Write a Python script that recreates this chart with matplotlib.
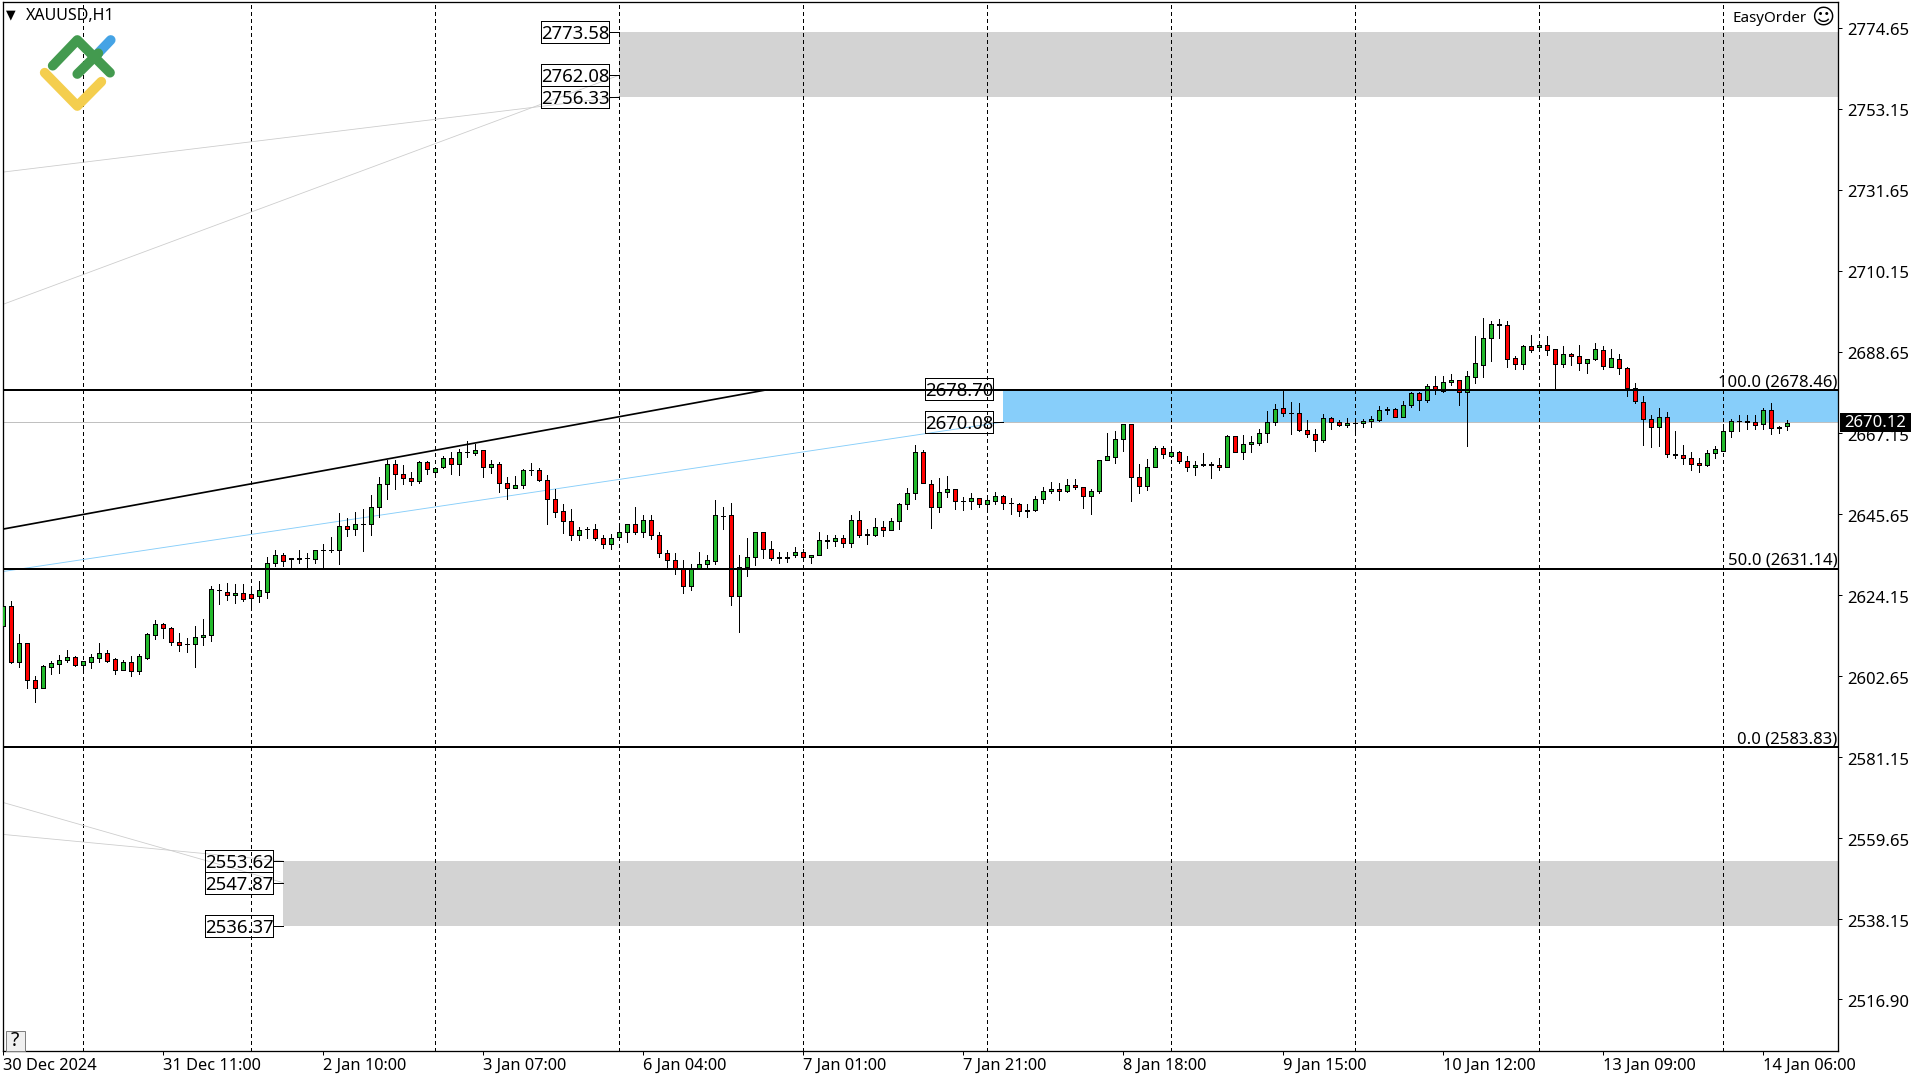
import numpy as np
import matplotlib
matplotlib.use("Agg")
import matplotlib.pyplot as plt
from matplotlib.lines import Line2D
from matplotlib.patches import Rectangle
from matplotlib.transforms import ScaledTranslation

plt.rcParams['font.family'] = ['Noto Sans', 'DejaVu Sans']

# XAUUSD H1 candles
opens = [2616.1, 2621.4, 2606.5, 2611.4, 2601.6, 2599.6, 2605.2, 2606.0, 2606.9, 2607.7,
         2605.7, 2606.5, 2607.6, 2608.7, 2607.2, 2604.4, 2606.4, 2603.9, 2607.6, 2613.7,
         2616.4, 2615.4, 2611.6, 2611.1, 2611.1, 2613.0, 2613.5, 2625.6, 2625.1, 2624.1,
         2624.6, 2624.4, 2623.8, 2625.1, 2632.8, 2634.7, 2633.9, 2633.9, 2633.9, 2633.8,
         2636.2, 2636.2, 2636.0, 2642.6, 2641.8, 2643.1, 2642.9, 2647.4, 2653.7, 2659.0,
         2656.4, 2655.3, 2654.5, 2659.5, 2656.9, 2658.2, 2660.6, 2659.0, 2662.2, 2661.9,
         2662.7, 2658.2, 2659.0, 2654.0, 2652.7, 2653.4, 2657.4, 2657.4, 2654.8, 2649.7,
         2646.6, 2643.9, 2640.0, 2641.8, 2641.8, 2639.2, 2637.8, 2639.6, 2640.8, 2643.1,
         2640.9, 2644.2, 2640.0, 2635.2, 2633.6, 2631.0, 2626.5, 2631.1, 2632.5, 2633.3,
         2645.2, 2645.5, 2623.8, 2631.5, 2634.4, 2640.8, 2636.5, 2634.3, 2634.3, 2634.7,
         2635.5, 2634.4, 2634.7, 2638.9, 2638.4, 2639.4, 2638.1, 2644.2, 2640.0, 2640.1,
         2642.3, 2641.3, 2643.9, 2648.4, 2651.3, 2662.2, 2653.7, 2647.6, 2651.6, 2652.4,
         2649.2, 2649.2, 2650.0, 2648.4, 2649.2, 2650.5, 2648.7, 2648.4, 2646.8, 2646.7,
         2649.7, 2651.9, 2652.4, 2651.9, 2653.4, 2652.9, 2650.5, 2651.9, 2660.1, 2660.9,
         2665.6, 2669.6, 2655.6, 2653.2, 2658.2, 2663.2, 2661.0, 2662.2, 2659.8, 2658.2,
         2658.9, 2658.9, 2658.7, 2658.2, 2666.4, 2662.2, 2664.3, 2664.6, 2667.2, 2670.1,
         2673.8, 2672.5, 2672.5, 2668.0, 2667.0, 2665.4, 2671.2, 2670.1, 2669.3, 2669.9,
         2669.9, 2670.4, 2670.6, 2673.5, 2673.6, 2671.5, 2674.6, 2677.8, 2675.9, 2679.6,
         2678.3, 2680.7, 2681.3, 2678.1, 2682.0, 2685.2, 2692.4, 2696.0, 2695.8, 2687.1,
         2685.5, 2690.3, 2690.0, 2690.5, 2689.5, 2685.5, 2688.1, 2687.6, 2685.8, 2686.8,
         2689.2, 2684.7, 2686.8, 2684.4, 2679.1, 2675.4, 2670.9, 2668.8, 2671.5, 2661.7,
         2661.2, 2660.6, 2659.3, 2658.8, 2661.9, 2662.5, 2667.8, 2670.4, 2670.4, 2670.2,
         2669.6, 2673.3, 2668.8, 2669.1]
highs = [2622.6, 2622.6, 2613.8, 2611.4, 2602.7, 2605.6, 2606.7, 2608.2, 2609.5, 2607.9,
         2606.6, 2608.5, 2611.4, 2609.5, 2607.4, 2606.9, 2607.9, 2608.5, 2614.0, 2617.6,
         2616.7, 2615.6, 2614.0, 2612.7, 2616.1, 2617.7, 2626.5, 2627.0, 2627.3, 2627.0,
         2627.0, 2625.4, 2627.8, 2634.4, 2636.2, 2635.2, 2634.1, 2636.2, 2635.2, 2636.0,
         2637.6, 2639.7, 2646.0, 2644.5, 2646.3, 2647.1, 2650.8, 2655.6, 2660.1, 2660.1,
         2658.7, 2656.9, 2659.8, 2659.8, 2658.0, 2661.1, 2662.2, 2663.0, 2665.1, 2664.3,
         2662.7, 2660.1, 2659.5, 2655.6, 2655.8, 2657.7, 2659.3, 2657.9, 2656.1, 2652.4,
         2648.2, 2647.1, 2642.3, 2642.1, 2642.9, 2640.0, 2640.5, 2642.9, 2643.1, 2647.4,
         2645.3, 2645.3, 2640.8, 2636.0, 2635.2, 2633.6, 2632.5, 2635.5, 2634.9, 2649.5,
         2647.6, 2648.7, 2634.7, 2639.4, 2641.0, 2640.8, 2638.4, 2635.5, 2635.5, 2636.8,
         2636.5, 2634.9, 2641.0, 2640.0, 2640.2, 2640.2, 2645.5, 2646.6, 2641.8, 2644.7,
         2643.9, 2644.7, 2648.7, 2652.7, 2664.0, 2662.7, 2654.8, 2655.3, 2655.8, 2652.4,
         2650.3, 2651.3, 2650.0, 2650.0, 2651.5, 2650.8, 2650.0, 2648.7, 2648.4, 2650.5,
         2652.9, 2654.2, 2654.0, 2655.0, 2655.0, 2652.9, 2652.4, 2660.1, 2667.2, 2667.6,
         2669.6, 2669.6, 2659.0, 2660.3, 2663.8, 2663.8, 2663.2, 2662.4, 2661.1, 2659.8,
         2661.9, 2659.5, 2660.6, 2666.7, 2666.4, 2666.7, 2666.4, 2668.3, 2673.0, 2674.9,
         2678.4, 2675.4, 2675.1, 2670.6, 2668.3, 2672.2, 2671.4, 2670.6, 2671.2, 2670.5,
         2670.9, 2671.7, 2674.4, 2674.1, 2673.8, 2675.7, 2678.1, 2678.1, 2680.2, 2682.3,
         2682.3, 2682.8, 2681.3, 2683.6, 2692.9, 2697.7, 2696.9, 2697.4, 2696.9, 2687.6,
         2690.5, 2693.2, 2691.0, 2692.9, 2689.5, 2690.3, 2688.4, 2690.5, 2686.8, 2691.0,
         2690.3, 2689.5, 2688.1, 2684.7, 2680.5, 2677.0, 2672.0, 2673.9, 2672.8, 2667.8,
         2664.0, 2662.2, 2660.6, 2662.7, 2663.8, 2669.6, 2670.9, 2672.0, 2672.0, 2672.0,
         2673.9, 2675.2, 2669.1, 2670.7]
lows = [2615.4, 2606.2, 2605.2, 2599.4, 2595.9, 2599.6, 2603.3, 2603.6, 2606.3, 2605.4,
        2603.6, 2604.9, 2606.5, 2606.5, 2603.3, 2604.2, 2602.6, 2603.3, 2607.1, 2612.6,
        2612.9, 2610.8, 2609.4, 2609.2, 2605.2, 2611.0, 2612.1, 2621.9, 2622.9, 2622.2,
        2622.7, 2621.4, 2622.4, 2623.5, 2631.9, 2631.9, 2631.1, 2632.7, 2631.1, 2632.7,
        2631.1, 2635.5, 2632.5, 2639.9, 2640.1, 2635.9, 2640.1, 2645.0, 2649.7, 2652.3,
        2653.6, 2653.4, 2653.9, 2656.3, 2656.6, 2658.0, 2656.3, 2656.0, 2660.8, 2661.3,
        2655.5, 2656.5, 2651.5, 2649.7, 2652.7, 2652.7, 2656.0, 2654.5, 2643.0, 2644.9,
        2640.7, 2638.8, 2638.8, 2639.3, 2638.8, 2636.7, 2636.4, 2638.7, 2638.3, 2640.4,
        2639.6, 2639.1, 2634.3, 2631.1, 2629.8, 2624.8, 2625.6, 2631.1, 2631.1, 2632.5,
        2641.7, 2621.6, 2614.5, 2629.3, 2632.2, 2634.0, 2633.5, 2632.7, 2633.0, 2634.3,
        2633.3, 2632.7, 2634.7, 2636.7, 2637.2, 2637.0, 2637.0, 2639.6, 2637.8, 2639.9,
        2639.9, 2641.3, 2641.7, 2647.0, 2649.7, 2654.0, 2642.0, 2646.2, 2650.2, 2647.0,
        2646.7, 2647.0, 2647.5, 2647.1, 2648.4, 2647.0, 2645.7, 2645.2, 2644.9, 2646.5,
        2648.6, 2651.3, 2649.4, 2651.6, 2652.4, 2647.3, 2645.7, 2651.3, 2659.9, 2659.2,
        2662.4, 2649.1, 2651.2, 2652.0, 2658.2, 2660.5, 2660.8, 2659.3, 2657.1, 2656.0,
        2658.4, 2655.2, 2657.3, 2658.2, 2662.2, 2660.2, 2662.1, 2664.0, 2664.9, 2669.2,
        2671.6, 2666.9, 2667.6, 2666.1, 2662.4, 2664.8, 2668.2, 2669.1, 2668.7, 2667.6,
        2668.7, 2668.7, 2670.4, 2672.2, 2671.5, 2671.5, 2674.1, 2673.2, 2675.4, 2677.5,
        2678.1, 2679.9, 2674.6, 2663.8, 2680.5, 2682.0, 2686.2, 2692.4, 2684.7, 2684.2,
        2684.2, 2688.7, 2689.0, 2687.9, 2679.0, 2684.7, 2685.2, 2683.9, 2683.1, 2686.5,
        2684.2, 2684.7, 2682.8, 2677.0, 2675.2, 2664.0, 2663.4, 2663.7, 2660.8, 2660.6,
        2659.0, 2657.4, 2656.7, 2658.5, 2660.6, 2662.5, 2666.2, 2667.8, 2668.3, 2668.3,
        2668.3, 2667.0, 2667.2, 2668.0]
closes = [2621.2, 2606.5, 2611.4, 2601.6, 2599.6, 2605.3, 2606.1, 2606.9, 2607.7, 2605.7,
          2606.6, 2607.7, 2608.7, 2606.8, 2604.4, 2606.4, 2603.9, 2607.9, 2613.8, 2616.4,
          2615.4, 2611.6, 2610.8, 2611.1, 2613.0, 2613.5, 2625.7, 2625.4, 2624.1, 2624.6,
          2623.2, 2623.5, 2625.4, 2632.8, 2634.7, 2633.3, 2633.7, 2633.7, 2633.9, 2636.0,
          2636.2, 2636.0, 2642.6, 2641.8, 2642.9, 2642.9, 2647.4, 2653.7, 2659.0, 2656.4,
          2655.3, 2654.5, 2659.4, 2657.7, 2658.0, 2660.6, 2659.0, 2662.2, 2662.0, 2662.7,
          2658.2, 2659.0, 2654.0, 2652.7, 2653.4, 2657.4, 2657.4, 2654.8, 2649.7, 2646.3,
          2643.7, 2640.0, 2641.5, 2641.8, 2639.2, 2637.8, 2639.2, 2640.8, 2643.1, 2640.9,
          2644.2, 2640.0, 2635.2, 2633.6, 2631.1, 2626.5, 2631.0, 2632.5, 2633.6, 2645.3,
          2645.2, 2623.8, 2631.5, 2634.4, 2640.8, 2636.5, 2634.1, 2634.1, 2634.1, 2635.7,
          2634.4, 2634.9, 2638.9, 2638.4, 2639.4, 2638.1, 2644.2, 2640.0, 2640.5, 2642.3,
          2641.3, 2643.7, 2648.4, 2651.3, 2662.2, 2654.0, 2647.6, 2651.6, 2652.4, 2649.0,
          2649.0, 2650.0, 2648.4, 2649.5, 2650.5, 2648.7, 2648.5, 2646.6, 2646.6, 2649.7,
          2651.9, 2652.4, 2651.9, 2653.4, 2652.8, 2650.5, 2651.9, 2660.1, 2661.1, 2665.6,
          2669.6, 2655.6, 2653.2, 2658.2, 2663.2, 2661.6, 2662.2, 2659.8, 2658.2, 2658.7,
          2658.7, 2658.7, 2658.2, 2666.4, 2662.2, 2664.3, 2664.8, 2667.2, 2670.1, 2673.6,
          2672.5, 2672.5, 2667.9, 2667.0, 2665.4, 2671.2, 2670.1, 2669.3, 2669.9, 2669.7,
          2670.4, 2670.9, 2673.3, 2673.3, 2671.5, 2674.6, 2677.8, 2675.9, 2679.6, 2678.6,
          2680.7, 2681.3, 2678.1, 2682.3, 2685.8, 2692.4, 2696.1, 2695.8, 2686.8, 2685.5,
          2690.3, 2689.2, 2690.5, 2689.2, 2685.5, 2688.1, 2687.6, 2685.8, 2686.8, 2689.5,
          2685.0, 2687.1, 2684.4, 2679.1, 2675.7, 2670.9, 2668.8, 2671.5, 2661.7, 2661.2,
          2660.6, 2659.0, 2658.8, 2661.9, 2663.0, 2667.8, 2670.4, 2670.4, 2670.2, 2669.3,
          2673.3, 2668.6, 2668.6, 2669.9]

price_ticks = [2774.65, 2753.15, 2731.65, 2710.15, 2688.65, 2667.15, 2645.65,
               2624.15, 2602.65, 2581.15, 2559.65, 2538.15, 2516.90]
time_ticks = [0, 20, 40, 60, 80, 100, 120, 140, 160, 180, 200, 220]
time_labels = ['30 Dec 2024', '31 Dec 11:00', '2 Jan 10:00', '3 Jan 07:00', '6 Jan 04:00',
               '7 Jan 01:00', '7 Jan 21:00', '8 Jan 18:00', '9 Jan 15:00', '10 Jan 12:00',
               '13 Jan 09:00', '14 Jan 06:00']
grid_bars = [10, 31, 54, 77, 100, 123, 146, 169, 192, 215]

fib_levels = [2678.46, 2631.14, 2583.83]
fib_labels = ['100.0 (2678.46)', '50.0 (2631.14)', '0.0 (2583.83)']

upper_zone = [2756.33, 2773.58]
upper_marks = [2773.58, 2762.08, 2756.33]
upper_start = 77
lower_zone = [2536.37, 2553.62]
lower_marks = [2553.62, 2547.87, 2536.37]
lower_start = 35
blue_zone = [2670.08, 2678.70]
blue_marks = [2678.70, 2670.08]
blue_start = 125
last_price = 2670.12

# trend lines as (left price, right bar, right price)
gray_lines = [(2736.35, 77, 2756.33), (2701.24, 77, 2762.08),
              (2560.7, 35, 2553.62), (2569.2, 35, 2547.87)]
black_line = (2641.65, 95.3, 2678.57)
blue_line = (2630.4, 125, 2670.08)

W, H = 1920, 1080
left, right, top, bottom = 2.5, 1838, 2, 1051
BAR_PX = 8.0
PRICE_PX = 3.77

opens, highs, lows, closes = map(np.array, (opens, highs, lows, closes))
x = np.arange(len(opens))

fig = plt.figure(figsize=(W / 100, H / 100), dpi=100, facecolor='white')
ax = fig.add_axes([left / W, 1 - bottom / H, (right - left) / W, (bottom - top) / H])
xmin = (left - 3.3) / BAR_PX
xmax = (right - 3.3) / BAR_PX
ax.set_xlim(xmin, xmax)
ax.set_ylim(2631.14 - (bottom - 568.8) / PRICE_PX, 2631.14 + (568.8 - top) / PRICE_PX)

px = 0.72  # one pixel in points

# zones
ax.axhspan(upper_zone[0], upper_zone[1], xmin=(upper_start - xmin) / (xmax - xmin), color='#D3D3D3', lw=0, zorder=1)
ax.axhspan(lower_zone[0], lower_zone[1], xmin=(lower_start - xmin) / (xmax - xmin), color='#D3D3D3', lw=0, zorder=1)
ax.axhspan(blue_zone[0], blue_zone[1], xmin=(blue_start - xmin) / (xmax - xmin), color='#87CEFA', lw=0, zorder=1)

# chart grid
for b in grid_bars:
    ax.axvline(b, color='black', lw=px, dashes=(3, 3), zorder=2, antialiased=False)

ax.axhline(last_price, color='#C0C0C0', lw=px, zorder=2, antialiased=False)

for y0, xe, ye in gray_lines:
    ax.plot([xmin, xe], [y0, ye], color='#CCCCCC', lw=px * 0.8, zorder=2)
ax.plot([xmin, blue_line[1]], [blue_line[0], blue_line[2]], color='#87CEFA', lw=px * 0.9, zorder=2)

# candles
up = closes >= opens
ax.vlines(x, lows, highs, color='black', lw=px, zorder=3, antialiased=False)
ax.bar(x[up], (closes - opens)[up], bottom=opens[up], width=0.5, color='#22B92B', edgecolor='black',
       linewidth=px, zorder=4, antialiased=False)
ax.bar(x[~up], (closes - opens)[~up], bottom=opens[~up], width=0.5, color='#FF0000', edgecolor='black',
       linewidth=px, zorder=4, antialiased=False)

# fibo levels and lines on top of the candles
for lev, lab in zip(fib_levels, fib_labels):
    ax.axhline(lev, color='black', lw=px * 2, zorder=5, antialiased=False)
    ax.text(xmax - 0.1, lev + 2.1, lab, ha='right', va='center', fontsize=12, color='black', zorder=6)
ax.plot([xmin, black_line[1]], [black_line[0], black_line[2]], color='black', lw=px * 1.7, zorder=5)


def price_tags(marks, start):
    box_r = start - 1.25
    box_w = 8.5
    box_h = 22 / PRICE_PX
    for m in marks:
        ax.add_patch(Rectangle((box_r - box_w, m - box_h / 2), box_w, box_h, fill=False, ec='black',
                               lw=px, zorder=6, antialiased=False))
        ax.text(box_r - box_w / 2, m - 0.5, f'{m:.2f}', ha='center', va='center', fontsize=13.3,
                color='black', zorder=7)
        ax.plot([box_r, start], [m, m], color='black', lw=px, zorder=6, antialiased=False)


price_tags(upper_marks, upper_start)
price_tags(lower_marks, lower_start)
price_tags(blue_marks, blue_start)

# axes
for s in ax.spines.values():
    s.set_linewidth(px * 1.3)
ax.yaxis.tick_right()
ax.set_yticks(price_ticks)
ax.set_yticklabels([f'{p:.2f}' for p in price_ticks], fontsize=12, color='black', va='center')
ax.tick_params(axis='y', length=3, width=px, pad=4)
ax.set_xticks(time_ticks)
ax.set_xticklabels(time_labels, fontsize=11.8, color='black', ha='left')
ax.tick_params(axis='x', length=3, width=px, pad=2)

shift = ScaledTranslation(0, -3.5 / 100, fig.dpi_scale_trans)
for lab in ax.get_yticklabels():
    lab.set_transform(lab.get_transform() + shift)

# last price tag over the axis labels
ax.add_patch(Rectangle((xmax + 0.25, last_price - 2.475 - 0.15), 8.85, 4.95, fc='black', ec='black', lw=0,
                       clip_on=False, zorder=8))
ax.text(xmax + 0.25 + 8.85 / 2, last_price - 0.4, f'{last_price:.2f}', ha='center', va='center', fontsize=12,
        color='white', zorder=9, clip_on=False)


def fx(p):
    return p / W


def fy(p):
    return 1 - p / H


# header texts
fig.text(fx(6), fy(14.5), '\u25BC', fontsize=9, ha='left', va='center', family=['DejaVu Sans'])
fig.text(fx(26), fy(16.5), 'XAUUSD,H1', fontsize=11.5, ha='left', va='center', color='black')
fig.text(fx(1733), fy(18), 'EasyOrder', fontsize=10.9, ha='left', va='center', color='black')
fig.text(fx(1823), fy(17.5), '\u263A', fontsize=16, ha='center', va='center', family=['DejaVu Sans'])

# question mark button
fig.add_artist(Rectangle((fx(6), fy(1051)), 19 / W, 20 / H, transform=fig.transFigure, fc='#F0F0F0', ec='#808080', lw=px))
fig.text(fx(15), fy(1041), '?', fontsize=14, ha='center', va='center', color='black')

# logo
logo = [('#45A3E5', [(93.3, 58.3), (110.7, 40)]),
        ('#F4CE4E', [(44.7, 72.7), (77.3, 106), (101.3, 81.7)]),
        ('#439A4F', [(52.7, 65.7), (77.3, 40), (110, 72.7)]),
        ('#439A4F', [(77.3, 74), (98.3, 53.3)])]
for col, pts in logo:
    fig.add_artist(Line2D([fx(p[0]) for p in pts], [fy(p[1]) for p in pts], transform=fig.transFigure,
                          color=col, lw=7, solid_capstyle='round', solid_joinstyle='round', zorder=10))

plt.savefig('out.png', dpi=100, facecolor='white')
